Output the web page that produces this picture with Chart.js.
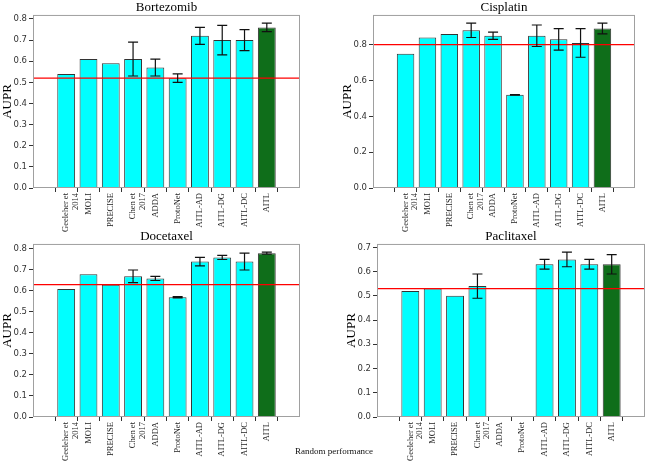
<!DOCTYPE html>
<html>
<head>
<meta charset="utf-8">
<script src="https://cdn.jsdelivr.net/npm/chart.js@4.4.0/dist/chart.umd.min.js"></script>
<style>
  html, body { margin: 0; padding: 0; background: #fff; }
  #wrap { position: relative; width: 646px; height: 465px; overflow: hidden; }
  canvas { position: absolute; }
  #note { position: absolute; left: 274px; top: 446px; width: 120px; text-align: center;
          font: 9px 'Liberation Serif', serif; color: #111; }
</style>
</head>
<body>
<div id="wrap">
  <canvas id="c0"></canvas>
  <canvas id="c1"></canvas>
  <canvas id="c2"></canvas>
  <canvas id="c3"></canvas>
  <div id="note">Random performance</div>
</div>
<script>
// methods on the x axis
const categories = [['Geeleher et', '2014'], 'MOLI', 'PRECISE', ['Chen et', '2017'], 'ADDA',
                    'ProtoNet', 'AITL-AD', 'AITL-DG', 'AITL-DC', 'AITL'];

// AUPR per drug (null = no bar)
const bortezomibValues = [0.54, 0.61, 0.59, 0.61, 0.57, 0.52, 0.72, 0.70, 0.70, 0.76];
const bortezomibErrors = [0, 0, 0, 0.08, 0.04, 0.02, 0.04, 0.07, 0.05, 0.02];
const bortezomibRandom = 0.52;

const cisplatinValues = [0.75, 0.84, 0.86, 0.88, 0.85, 0.52, 0.85, 0.83, 0.81, 0.89];
const cisplatinErrors = [0, 0, 0, 0.04, 0.02, 0.002, 0.06, 0.06, 0.08, 0.03];
const cisplatinRandom = 0.80;

const docetaxelValues = [0.61, 0.68, 0.63, 0.67, 0.66, 0.57, 0.74, 0.76, 0.74, 0.78];
const docetaxelErrors = [0, 0, 0, 0.03, 0.01, 0.003, 0.02, 0.01, 0.04, 0.005];
const docetaxelRandom = 0.63;

const paclitaxelValues = [0.52, 0.53, 0.50, 0.54, null, null, 0.63, 0.65, 0.63, 0.63];
const paclitaxelErrors = [0, 0, 0, 0.05, 0, 0, 0.02, 0.03, 0.02, 0.04];
const paclitaxelRandom = 0.53;

const barColors = categories.map(c => c === 'AITL' ? '#0f6e1a' : '#00ffff');

// where each panel sits (canvas box + plot area inside it)
const panels = [
  { id: 'c0', title: 'Bortezomib', values: bortezomibValues, errors: bortezomibErrors, random: bortezomibRandom,
    yMax: 0.819, step: 0.1, box: [0, 0, 320, 240], area: [33, 15, 300, 188], padLeft: 0 },
  { id: 'c1', title: 'Cisplatin', values: cisplatinValues, errors: cisplatinErrors, random: cisplatinRandom,
    yMax: 0.966, step: 0.2, box: [320, 0, 326, 240], area: [53, 15, 315, 188], padLeft: 20 },
  { id: 'c2', title: 'Docetaxel', values: docetaxelValues, errors: docetaxelErrors, random: docetaxelRandom,
    yMax: 0.824, step: 0.1, box: [0, 228, 320, 237], area: [33, 16, 300, 189], padLeft: 0 },
  { id: 'c3', title: 'Paclitaxel', values: paclitaxelValues, errors: paclitaxelErrors, random: paclitaxelRandom,
    yMax: 0.714, step: 0.1, box: [320, 228, 326, 237], area: [57, 16, 325, 189], padLeft: 24 }
];

// red random line, error bars and the axes frame
const extras = {
  id: 'extras',
  afterDatasetsDraw(chart, args, opts) {
    const { ctx, chartArea: a, scales: { y } } = chart;
    ctx.save();
    const ry = y.getPixelForValue(opts.random);
    ctx.strokeStyle = '#ff0000';
    ctx.lineWidth = 1.3;
    ctx.beginPath();
    ctx.moveTo(a.left, ry);
    ctx.lineTo(a.right, ry);
    ctx.stroke();

    const meta = chart.getDatasetMeta(0);
    ctx.strokeStyle = '#111';
    ctx.lineWidth = 1.2;
    opts.errors.forEach((e, i) => {
      const v = opts.values[i];
      if (v == null || !e) return;
      const x = meta.data[i].x;
      const t = y.getPixelForValue(v + e);
      const b = y.getPixelForValue(v - e);
      ctx.beginPath();
      ctx.moveTo(x, t); ctx.lineTo(x, b);
      ctx.moveTo(x - 5, t); ctx.lineTo(x + 5, t);
      ctx.moveTo(x - 5, b); ctx.lineTo(x + 5, b);
      ctx.stroke();
    });

    ctx.strokeStyle = '#a0a0a0';
    ctx.lineWidth = 1;
    ctx.strokeRect(a.left + 0.5, a.top + 0.5, a.right - a.left - 1, a.bottom - a.top - 1);
    ctx.restore();
  }
};

panels.forEach(p => {
  const cv = document.getElementById(p.id);
  const [bx, by, bw, bh] = p.box;
  const [al, at, ar, ab] = p.area;
  cv.width = bw; cv.height = bh;
  cv.style.left = bx + 'px'; cv.style.top = by + 'px';
  cv.style.width = bw + 'px'; cv.style.height = bh + 'px';

  new Chart(cv.getContext('2d'), {
    type: 'bar',
    data: {
      datasets: [{
        data: p.values.map((v, i) => ({ x: i, y: v })),
        backgroundColor: barColors,
        borderColor: '#333',
        borderWidth: 1,
        barPercentage: 0.8,
        categoryPercentage: 1.0
      }]
    },
    options: {
      responsive: false,
      animation: false,
      layout: { padding: { left: p.padLeft, top: 0, right: bw - ar, bottom: 0 } },
      plugins: {
        legend: { display: false },
        tooltip: { enabled: false },
        title: {
          display: true, text: p.title, fullSize: false, color: '#000',
          font: { family: 'Liberation Serif', size: 13, weight: 'normal', lineHeight: 1.15 },
          padding: { top: at - 15, bottom: 0 }
        },
        extras: { values: p.values, errors: p.errors, random: p.random }
      },
      scales: {
        x: {
          type: 'linear', min: -0.89, max: 9.89,
          afterFit: s => { s.height = bh - ab; },
          border: { display: false },
          grid: { drawOnChartArea: false, drawTicks: true, tickLength: 4, color: '#333' },
          ticks: {
            stepSize: 1, includeBounds: false, autoSkip: false,
            minRotation: 90, maxRotation: 90, padding: 1, color: '#222',
            font: { family: 'Liberation Serif', size: 8.5, lineHeight: 1.1 },
            callback: v => Number.isInteger(v) && v >= 0 && v < categories.length ? categories[v] : ''
          }
        },
        y: {
          min: 0, max: p.yMax,
          afterFit: s => { s.width = al - p.padLeft; },
          border: { display: false },
          grid: { drawOnChartArea: false, drawTicks: true, tickLength: 4, color: '#333' },
          title: {
            display: true, text: 'AUPR', color: '#000', padding: 0,
            font: { family: 'Liberation Serif', size: 13, lineHeight: 1.1 }
          },
          ticks: {
            stepSize: p.step, includeBounds: false, padding: 2, color: '#333',
            font: { family: 'DejaVu Sans', size: 8.5 },
            callback: v => v.toFixed(1)
          }
        }
      }
    },
    plugins: [extras]
  });
});
</script>
</body>
</html>
